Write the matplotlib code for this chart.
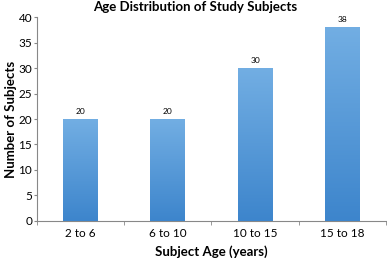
import matplotlib
matplotlib.use("Agg")
import matplotlib.pyplot as plt
import numpy as np
from matplotlib.colors import LinearSegmentedColormap

categories = ["2 to 6", "6 to 10", "10 to 15", "15 to 18"]
values = [20, 20, 30, 38]
yticks = [0, 5, 10, 15, 20, 25, 30, 35, 40]

plt.rcParams['font.family'] = ['Lato', 'DejaVu Sans']

fig = plt.figure(figsize=(3.87, 2.59), dpi=100)
ax = fig.add_axes([0.0956, 0.147, 0.9014, 0.787])

x = np.arange(len(categories))
bars = ax.bar(x, values, width=0.4, color="#5b9bd5", zorder=2)

cmap = LinearSegmentedColormap.from_list("g", ["#3d85cc", "#72aee3"])
grad = np.linspace(0, 1, 256).reshape(-1, 1)
for b in bars:
    bx, by = b.get_x(), b.get_y()
    w, h = b.get_width(), b.get_height()
    im = ax.imshow(grad, cmap=cmap, extent=[bx, bx + w, by, by + h],
                   origin="lower", aspect="auto", zorder=3)
    im.set_clip_path(b)
    b.set_alpha(0)

for xi, v in zip(x, values):
    ax.text(xi, v + 0.8, str(v), ha="center", va="bottom", fontsize=6)

ax.set_xlim(-0.5, len(categories) - 0.5)
ax.set_ylim(0, 40)
ax.set_yticks(yticks)
ax.set_yticklabels([str(t) for t in yticks], fontsize=8.5)
ax.set_xticks(x)
ax.set_xticklabels(categories, fontsize=8.5)
ax.set_xticks(np.arange(-0.5, len(categories)), minor=True)
ax.tick_params(axis="x", which="major", length=0, pad=5)
ax.tick_params(axis="x", which="minor", length=3, color="#888888")
ax.tick_params(axis="y", length=2.5, color="#888888", pad=1)

for s in ["top", "right"]:
    ax.spines[s].set_visible(False)
for s in ["left", "bottom"]:
    ax.spines[s].set_color("#888888")
    ax.spines[s].set_linewidth(0.8)

ax.set_xlabel("Subject Age (years)", fontsize=9.5, fontweight="bold", labelpad=4.5)
ax.set_ylabel("Number of Subjects", fontsize=9.5, fontweight="bold")
ax.yaxis.set_label_coords(-0.058, 0.5)
fig.text(0.505, 0.995, "Age Distribution of Study Subjects", ha="center", va="top",
         fontsize=9.5, fontweight="bold")

fig.savefig("out.png", dpi=100)
